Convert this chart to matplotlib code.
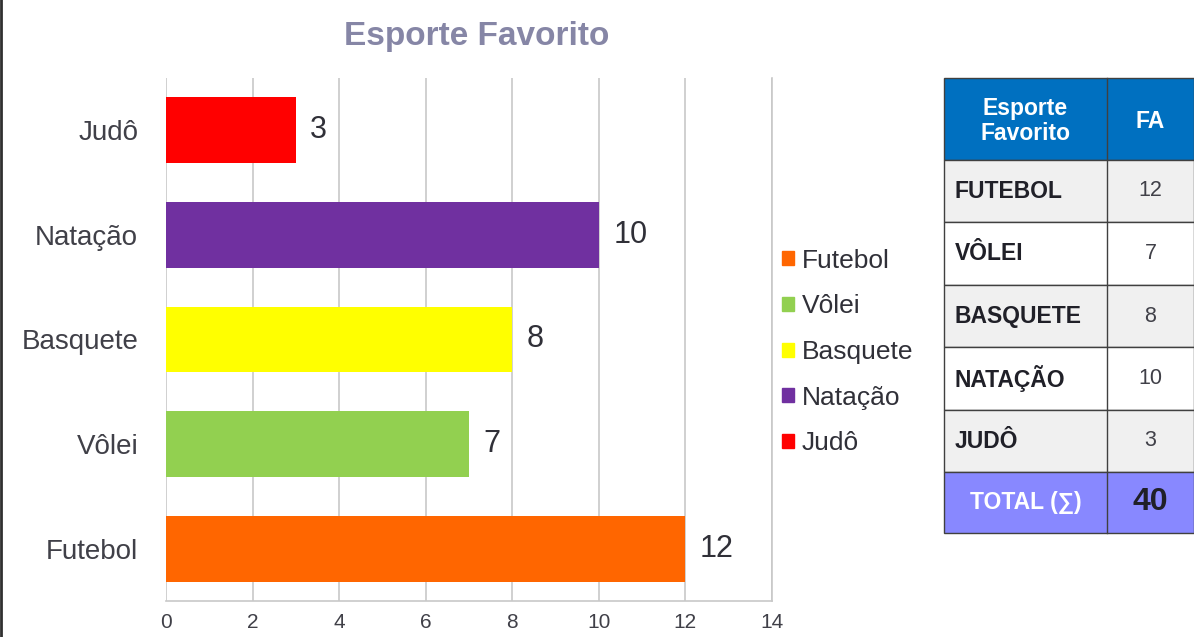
import matplotlib.pyplot as plt
from matplotlib.patches import Rectangle, Patch

plt.rcParams['font.family'] = ['Liberation Sans', 'DejaVu Sans']

# chart data (bottom to top)
SPORTS = ["Futebol", "Vôlei", "Basquete", "Natação", "Judô"]
COUNTS = [12, 7, 8, 10, 3]
COLORS = ["#FF6600", "#92D050", "#FFFF00", "#7030A0", "#FF0000"]
X_TICKS = [0, 2, 4, 6, 8, 10, 12, 14]

# table data
TABLE_HEADER = ["Esporte\nFavorito", "FA"]
TABLE_NAMES = ["FUTEBOL", "VÔLEI", "BASQUETE", "NATAÇÃO", "JUDÔ"]
TABLE_VALUES = [12, 7, 8, 10, 3]
TOTAL_LABEL = "TOTAL (∑)"
TOTAL_VALUE = 40

W, H = 1194, 637
fig = plt.figure(figsize=(W / 100, H / 100), dpi=100)

# bar chart
ax = fig.add_axes([166 / W, 1 - 601 / H, (772 - 166) / W, (601 - 78) / H])
bars = ax.barh(range(len(SPORTS)), COUNTS, height=0.63, color=COLORS, zorder=3)
ax.set_xlim(0, 14)
ax.set_ylim(-0.5, len(SPORTS) - 0.5)
ax.set_xticks(X_TICKS)
ax.set_yticks(range(len(SPORTS)))
ax.set_yticklabels(SPORTS)
ax.tick_params(axis='y', length=0, pad=20, labelsize=20, labelcolor="#404048")
ax.tick_params(axis='x', length=0, pad=9, labelsize=15, labelcolor="#404048")
ax.grid(axis='x', color="#C8C8C8", linewidth=1.2, zorder=0)
for side in ["top", "left"]:
    ax.spines[side].set_visible(False)
for side in ["right", "bottom"]:
    ax.spines[side].set_color("#C8C8C8")
    ax.spines[side].set_linewidth(1.2)
for b, v in zip(bars, COUNTS):
    ax.text(v + 0.33, b.get_y() + b.get_height() / 2, str(v), va='center',
            ha='left', fontsize=22, color="#303038")

fig.text(477 / W, 1 - 36 / H, "Esporte Favorito", ha='center', va='center',
         fontsize=24, fontweight='bold', color="#8686A6")

# legend
handles = [Patch(color=c, label=s) for s, c in zip(SPORTS, COLORS)]
fig.legend(handles=handles, loc='center left', bbox_to_anchor=(782 / W, 1 - 352 / H),
           frameon=False, fontsize=19, handlelength=0.45, handleheight=0.45,
           handletextpad=0.3, labelspacing=0.82, labelcolor="#303038",
           borderaxespad=0, borderpad=0)

# table drawn in pixel coordinates
tx = fig.add_axes([0, 0, 1, 1])
tx.set_xlim(0, W)
tx.set_ylim(H, 0)
tx.axis('off')
x0, xm, x1 = 944, 1107, 1194
row_edges = [78, 160, 222, 285, 347, 410, 472, 533]
edge = "#404040"

tx.add_patch(Rectangle((x0, row_edges[0]), x1 - x0, row_edges[1] - row_edges[0],
                       facecolor="#0070C0", edgecolor=edge, linewidth=1))
tx.text((x0 + xm) / 2, (row_edges[0] + row_edges[1]) / 2 + 2, TABLE_HEADER[0],
        ha='center', va='center', color='white', fontweight='bold', fontsize=16.5,
        linespacing=1.1)
tx.text((xm + x1) / 2, (row_edges[0] + row_edges[1]) / 2 + 2, TABLE_HEADER[1],
        ha='center', va='center', color='white', fontweight='bold', fontsize=16.5)

for i, (name, val) in enumerate(zip(TABLE_NAMES, TABLE_VALUES)):
    top, bot = row_edges[i + 1], row_edges[i + 2]
    fc = "#F0F0F0" if i % 2 == 0 else "white"
    tx.add_patch(Rectangle((x0, top), x1 - x0, bot - top, facecolor=fc,
                           edgecolor=edge, linewidth=1))
    tx.text(x0 + 11, (top + bot) / 2, name, ha='left', va='center',
            fontweight='bold', fontsize=16.5, color="#202028")
    tx.text((xm + x1) / 2, (top + bot) / 2, str(val), ha='center', va='center',
            fontsize=15.5, color="#404048")

top, bot = row_edges[-2], row_edges[-1]
tx.add_patch(Rectangle((x0, top), x1 - x0, bot - top, facecolor="#8888FF",
                       edgecolor=edge, linewidth=1))
tx.text((x0 + xm) / 2, (top + bot) / 2, TOTAL_LABEL, ha='center', va='center',
        color='white', fontweight='bold', fontsize=16.5)
tx.text((xm + x1) / 2, (top + bot) / 2, str(TOTAL_VALUE), ha='center', va='center',
        color="#202028", fontweight='bold', fontsize=23)
tx.plot([xm, xm], [row_edges[0], row_edges[-1]], color=edge, linewidth=1)

# dark frame line on the left edge
tx.plot([1, 1], [0, H], color="#303030", linewidth=2)

fig.savefig("out.png", dpi=100)
